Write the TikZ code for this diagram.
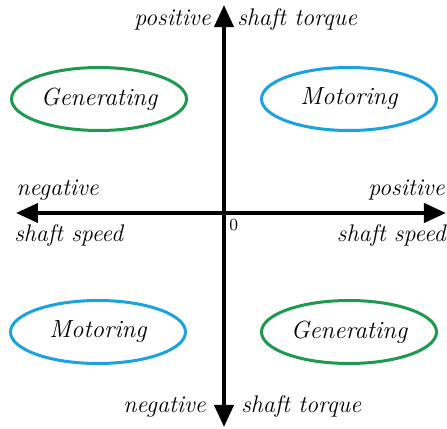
\documentclass[tikz,border=0pt]{standalone}
\usepackage{tikz}
\usetikzlibrary{arrows.meta,positioning,shapes.geometric}
\definecolor{quadGreen}{HTML}{1E9A4E}
\definecolor{quadBlue}{HTML}{1BA3E0}
\tikzset{
  qregion/.style={ellipse,draw,line width=1.5pt,inner sep=0pt,
    minimum width=87.5pt,minimum height=31.5pt,
    font=\fontsize{12.4}{14}\selectfont\itshape},
  qgen/.style={qregion,draw=quadGreen},
  qmot/.style={qregion,draw=quadBlue},
  qaxis/.style={{Triangle[length=11pt,width=9.5pt]}-{Triangle[length=11pt,width=9.5pt]},
    line width=2pt},
  qlabel/.style={inner sep=0pt,font=\fontsize{12}{14}\selectfont\itshape},
}
\begin{document}
\begin{tikzpicture}[x=0.5pt,y=-0.5pt]
\useasboundingbox (0,0) rectangle (447,429);
% axes
\coordinate (o) at (224,213);
\coordinate (top) at (224,5);
\coordinate (bot) at (224,427);
\coordinate (left) at (16,213);
\coordinate (right) at (446,213);
\draw[qaxis] (bot) -- (top);
\draw[qaxis] (left) -- (right);
\node[font=\fontsize{8.5}{10}\selectfont,anchor=north west,inner sep=0pt] (zero) at (229,219) {0};
% quadrants
\node[qgen] (genTL) at (99,99) {Generating};
\node[qmot] (motTR) at (349,99) {Motoring};
\node[qmot] (motBL) at (98,332) {Motoring};
\node[qgen] (genBR) at (349,332) {Generating};
% axis labels
\node[qlabel,anchor=base east] (tpos) at (211,25) {positive};
\node[qlabel,anchor=base west] (ttor) at (237,25) {shaft torque};
\node[qlabel,anchor=base west] (lneg) at (16,196) {negative};
\node[qlabel,anchor=base west] (lspd) at (14,242) {shaft speed};
\node[qlabel,anchor=base east] (rpos) at (445,196) {positive};
\node[qlabel,anchor=base east] (rspd) at (446,242) {shaft speed};
\node[qlabel,anchor=base east] (bneg) at (206,413) {negative};
\node[qlabel,anchor=base west] (btor) at (241,413) {shaft torque};
\end{tikzpicture}
\end{document}
